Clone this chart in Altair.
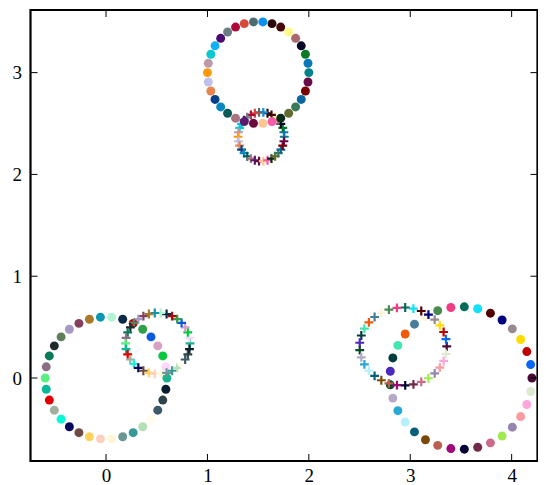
import math
import altair as alt
import pandas as pd

# ---- data ----
# big dot circles: centre, radius, number of points
dot_cx = [1.5, 0.0, 3.5]
dot_cy = [3.0, 0.0, 0.0]
dot_r = [0.5, 0.6, 0.7]
n_pts = [34, 34, 33]
# plus-marker circles (same points, same colours, smaller circle)
plus_cx = [1.53, 0.51, 2.93]
plus_cy = [2.37, 0.34, 0.31]
plus_rx = [0.228, 0.318, 0.43]
plus_ry = [0.24, 0.30, 0.383]
group_names = ["top", "left", "right"]

colors_top = ["#00838a", "#0a78b8", "#0a7a28", "#050a28", "#a86a6c", "#fdfa88", "#460808",
              "#2c0808", "#0a90f0", "#4c6e72", "#d84838", "#b00a3c", "#6e7c84", "#4a0a70",
              "#10b0f8", "#08c8d0", "#bf98ac", "#ff9808", "#bec2e8", "#e8844c", "#064088",
              "#0888c0", "#0a5a56", "#a87480", "#5c1a6a", "#6a0a3c", "#fec494", "#f85aa8",
              "#0a2a18", "#636c30", "#3a7a58", "#0a68a0", "#780000", "#6a0a48"]
colors_left = ["#18b48c", "#fcd8fc", "#08c840", "#d8a0c4", "#0a58e0", "#30a048", "#b00808",
               "#0a2a48", "#b0f4d4", "#0a98b0", "#a87a2a", "#84405c", "#a898c4", "#5e7e5e",
               "#1e2c2c", "#087a5a", "#8c6e84", "#58f080", "#08b898", "#e00000", "#a0b09c",
               "#08f8d8", "#08085a", "#6e4a44", "#fcd45c", "#fcd0bc", "#fef6d4", "#6c9696",
               "#389898", "#b4e0b8", "#fffcec", "#3c5a6a", "#2e4448", "#081e30"]
colors_right = ["#4a0a38", "#0a68f8", "#c00000", "#ffdc00", "#968a8e", "#000080", "#500000",
                "#10e0f8", "#046c58", "#f03c80", "#488a50", "#fef4d8", "#4a7e98", "#f05a08",
                "#40e8b0", "#033c3c", "#4a28c0", "#0a4a28", "#b4aac8", "#28a8d4", "#b4f0fc",
                "#05607a", "#7a4808", "#b86050", "#a0087a", "#050535", "#742848", "#cc6a8a",
                "#a0ea50", "#9486ae", "#fc9aa0", "#fca6dc", "#dfe8d0"]
group_colors = [colors_top, colors_left, colors_right]

x_ticks = [0, 1, 2, 3, 4]
y_ticks = [0, 1, 2, 3]
x_domain = [-0.745, 4.255]
y_domain = [-0.815, 3.615]

# ---- build table ----
rows = []
for g in range(3):
    n = n_pts[g]
    for k in range(n):
        a = 2 * math.pi * k / n
        c = group_colors[g][k]
        rows.append(dict(x=dot_cx[g] + dot_r[g] * math.cos(a), y=dot_cy[g] + dot_r[g] * math.sin(a),
                         col=c, kind="dot", grp=group_names[g], o=k))
        rows.append(dict(x=plus_cx[g] + plus_rx[g] * math.cos(a), y=plus_cy[g] + plus_ry[g] * math.sin(a),
                         col=c, kind="plus", grp=group_names[g], o=k))
df = pd.DataFrame(rows)

W, H = 507, 451
FONT = "Liberation Serif"

xs = alt.Scale(domain=x_domain, nice=False, zero=False)
ys = alt.Scale(domain=y_domain, nice=False, zero=False)

xaxis = alt.Axis(values=x_ticks, title=None, labelPadding=5)
yaxis = alt.Axis(values=y_ticks, title=None, labelPadding=9)

PLUS = "M-1,0L1,0M0,-1L0,1"


def enc(ch):
    return ch.encode(
        x=alt.X("x:Q", scale=xs, axis=xaxis),
        y=alt.Y("y:Q", scale=ys, axis=yaxis),
        color=alt.Color("col:N", scale=None),
        order="o:Q",
    )


base = alt.Chart(df)

plus_top = enc(base.transform_filter("datum.kind == 'plus' && datum.grp == 'top'").mark_point(
    shape=PLUS, filled=False, size=78, strokeWidth=2.2, opacity=1))

dots = enc(base.transform_filter("datum.kind == 'dot'").mark_point(
    shape="circle", filled=True, size=80, opacity=1, strokeWidth=0))

plus_rest = enc(base.transform_filter("datum.kind == 'plus' && datum.grp != 'top'").mark_point(
    shape=PLUS, filled=False, size=78, strokeWidth=2.2, opacity=1))

xt = pd.DataFrame({"x": x_ticks})
yt = pd.DataFrame({"y": y_ticks})
TL = 7
tick_style = dict(color="black", strokeWidth=1)

bottom_ticks = alt.Chart(xt).mark_rule(**tick_style).encode(
    x=alt.X("x:Q", scale=xs, axis=xaxis), y=alt.value(H), y2=alt.value(H - TL))
top_ticks = alt.Chart(xt).mark_rule(**tick_style).encode(
    x=alt.X("x:Q", scale=xs, axis=xaxis), y=alt.value(0), y2=alt.value(TL))
left_ticks = alt.Chart(yt).mark_rule(**tick_style).encode(
    y=alt.Y("y:Q", scale=ys, axis=yaxis), x=alt.value(0), x2=alt.value(TL))
right_ticks = alt.Chart(yt).mark_rule(**tick_style).encode(
    y=alt.Y("y:Q", scale=ys, axis=yaxis), x=alt.value(W), x2=alt.value(W - TL))

chart = alt.layer(
    plus_top, dots, plus_rest, bottom_ticks, top_ticks, left_ticks, right_ticks
).properties(
    width=W, height=H,
    autosize=alt.AutoSizeParams(type="none"),
    padding={"left": 22.5, "top": 2, "right": 0.5, "bottom": 24},
).configure_view(
    stroke="black", strokeWidth=2.2
).configure_axis(
    grid=False, ticks=False, domain=False, labelFont=FONT, labelFontSize=19,
    labelColor="black", format="d"
)

chart.save("out.html", embed_options={"renderer": "svg", "actions": False})
